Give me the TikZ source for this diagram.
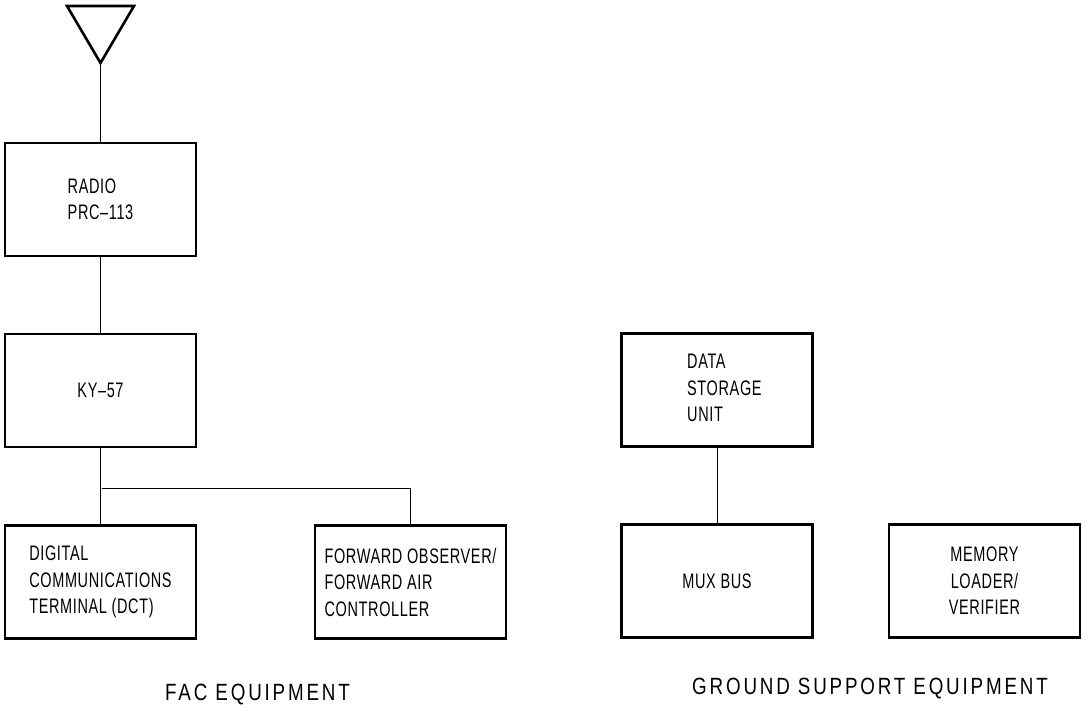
\documentclass[tikz,border=0pt]{standalone}
\usepackage{fontspec}
\setmainfont{Liberation Sans}[FakeStretch=0.69,LetterSpace=3]
\newfontfamily\gsefont{Liberation Sans}[FakeStretch=0.8,LetterSpace=12]
\begin{document}
\begin{tikzpicture}[x=1pt,y=-1pt,
  unitbox/.style={draw,line width=2.6pt,rectangle,minimum width=191pt,minimum height=113pt,inner sep=0pt,align=left,font=\fontsize{21}{26.5}\selectfont},
  conn/.style={line width=1pt},
  boxtext/.style={inner sep=0pt,align=left,font=\fontsize{21}{26.5}\selectfont},
  grouplabel/.style={inner sep=0pt,font=\gsefont\fontsize{23.5}{28}\selectfont}]
\useasboundingbox (0,0) rectangle (1086,719);
% antenna
\coordinate (ta) at (67,6);
\coordinate (tb) at (134,6);
\coordinate (apex) at (100.5,63);
\draw[line width=2.6pt,line join=miter] (ta) -- (tb) -- (apex) -- cycle;
% boxes
\node[unitbox] (radio) at (100.5,199.5) {RADIO\\PRC–113};
\node[unitbox] (ky) at (100.5,390.5) {KY–57};
\node[unitbox] (dct) at (100.5,582) {DIGITAL\\COMMUNICATIONS\\TERMINAL (DCT)};
\node[unitbox] (fo) at (410.5,582) {FORWARD OBSERVER/\\FORWARD AIR\\CONTROLLER};
\node[unitbox] (dsu) at (717,390) {};
\node[boxtext,anchor=west] (dsut) at (687,388) {DATA\\STORAGE\\UNIT};
\node[unitbox] (mux) at (717,581) {MUX BUS};
\node[unitbox,align=center] (mem) at (984.5,581) {MEMORY\\LOADER/\\VERIFIER};
% connectors
\draw[conn] (apex) -- (radio.north);
\draw[conn] (radio.south) -- (ky.north);
\draw[conn] (ky.south) -- (dct.north);
\coordinate (j) at (102,488);
\draw[conn] (j) -- (fo.north |- j) -- (fo.north);
\draw[conn] (dsu.south) -- (mux.north);
% group labels
\node[grouplabel] (fac) at (257.5,695) {FAC EQUIPMENT};
\node[grouplabel] (gse) at (870,689) {GROUND SUPPORT EQUIPMENT};
\end{tikzpicture}
\end{document}
